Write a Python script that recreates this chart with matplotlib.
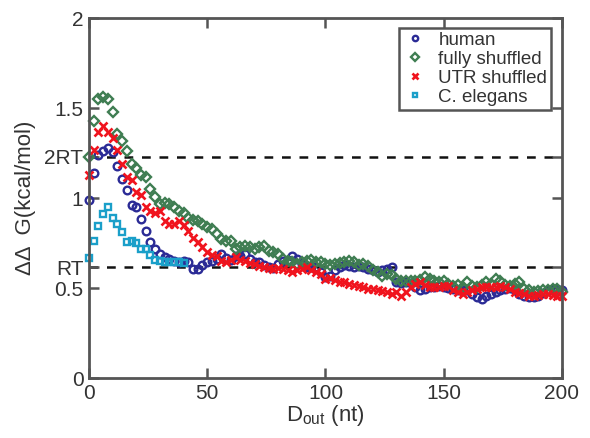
import numpy as np
import matplotlib
matplotlib.use('Agg')
import matplotlib.pyplot as plt

plt.rcParams['font.family'] = ['Liberation Sans', 'DejaVu Sans']

RT = 0.616  # kcal/mol at 310 K

d_out = list(range(0, 201, 2))
d_out_elegans = list(range(0, 41, 2))

human = [0.99, 1.14, 1.24, 1.265, 1.28, 1.26, 1.18, 1.11, 1.045, 0.965,
         0.95, 0.884, 0.82, 0.76, 0.72, 0.69, 0.672, 0.663, 0.65, 0.644,
         0.654, 0.645, 0.608, 0.605, 0.63, 0.644, 0.65, 0.665, 0.69, 0.67,
         0.66, 0.68, 0.68, 0.69, 0.663, 0.645, 0.644, 0.63, 0.62, 0.615,
         0.635, 0.654, 0.66, 0.68, 0.665, 0.635, 0.62, 0.617, 0.62, 0.59,
         0.561, 0.57, 0.60, 0.617, 0.63, 0.626, 0.62, 0.626, 0.62, 0.61,
         0.60, 0.59, 0.60, 0.61, 0.617, 0.534, 0.53, 0.534, 0.53, 0.51,
         0.488, 0.495, 0.506, 0.51, 0.515, 0.51, 0.50, 0.497, 0.49, 0.49,
         0.49, 0.47, 0.451, 0.442, 0.46, 0.47, 0.479, 0.49, 0.497, 0.50,
         0.49, 0.47, 0.46, 0.451, 0.45, 0.46, 0.475, 0.49, 0.497, 0.497,
         0.49]

fully_shuffled = [1.23, 1.43, 1.55, 1.565, 1.55, 1.48, 1.36, 1.32, 1.265, 1.19,
                  1.17, 1.127, 1.12, 1.05, 1.01, 0.967, 0.976, 0.967, 0.95, 0.93,
                  0.92, 0.893, 0.88, 0.874, 0.856, 0.838, 0.829, 0.80, 0.773, 0.764,
                  0.764, 0.718, 0.73, 0.736, 0.727, 0.72, 0.727, 0.736, 0.709, 0.70,
                  0.69, 0.663, 0.654, 0.645, 0.635, 0.645, 0.654, 0.66, 0.644, 0.644,
                  0.635, 0.63, 0.635, 0.64, 0.644, 0.65, 0.644, 0.63, 0.635, 0.626,
                  0.60, 0.59, 0.571, 0.58, 0.575, 0.55, 0.543, 0.54, 0.543, 0.54,
                  0.545, 0.561, 0.55, 0.543, 0.535, 0.54, 0.525, 0.515, 0.52, 0.506,
                  0.534, 0.515, 0.51, 0.52, 0.534, 0.525, 0.552, 0.54, 0.52, 0.515,
                  0.525, 0.534, 0.497, 0.49, 0.479, 0.485, 0.488, 0.488, 0.497, 0.495,
                  0.48]

utr_shuffled = [1.127, 1.27, 1.37, 1.40, 1.366, 1.335, 1.27, 1.19, 1.12, 1.10,
                1.035, 1.02, 0.95, 0.93, 0.92, 0.93, 0.875, 0.856, 0.856, 0.875,
                0.85, 0.82, 0.78, 0.755, 0.727, 0.70, 0.685, 0.68, 0.654, 0.645,
                0.66, 0.672, 0.66, 0.654, 0.64, 0.635, 0.625, 0.617, 0.615, 0.608,
                0.615, 0.61, 0.60, 0.59, 0.60, 0.61, 0.617, 0.60, 0.59, 0.58,
                0.552, 0.555, 0.545, 0.535, 0.534, 0.525, 0.52, 0.515, 0.51, 0.497,
                0.495, 0.488, 0.485, 0.48, 0.47, 0.479, 0.46, 0.48, 0.506, 0.525,
                0.534, 0.52, 0.51, 0.506, 0.51, 0.515, 0.515, 0.49, 0.479, 0.47,
                0.48, 0.488, 0.497, 0.506, 0.505, 0.506, 0.51, 0.515, 0.51, 0.497,
                0.479, 0.475, 0.47, 0.46, 0.46, 0.465, 0.47, 0.47, 0.465, 0.46,
                0.455]

c_elegans = [0.668, 0.764, 0.847, 0.915, 0.95, 0.893, 0.856, 0.814, 0.76, 0.764,
             0.751, 0.72, 0.718, 0.685, 0.66, 0.654, 0.644, 0.644, 0.644, 0.644,
             0.64]

ytick_vals = [0, 0.5, RT, 1, 2 * RT, 1.5, 2]
ytick_labels = ['0', '0.5', 'RT', '1', '2RT', '1.5', '2']

fig = plt.figure(figsize=(5.9, 4.38), dpi=100)
ax = fig.add_axes([0.1508, 0.1363, 0.8017, 0.8219])

ax.axhline(RT, color='#111111', ls=(0, (3.5, 3.5)), lw=1.8, zorder=1)
ax.axhline(2 * RT, color='#111111', ls=(0, (3.5, 3.5)), lw=1.8, zorder=1)

ax.plot(d_out, human, 'o', ms=5.5, mfc='none', mec='#2b2b96', mew=1.7,
        label='human', clip_on=False)
ax.plot(d_out, fully_shuffled, 'D', ms=5.3, mfc='none', mec='#3f7d52', mew=1.7,
        label='fully shuffled', clip_on=False)
ax.plot(d_out, utr_shuffled, 'x', ms=6, color='#f0141e', mew=1.9,
        label='UTR shuffled', clip_on=False)
ax.plot(d_out_elegans, c_elegans, 's', ms=4.8, mfc='none', mec='#1a9fc9', mew=1.7,
        label='C. elegans', clip_on=False)

ax.set_xlim(0, 200)
ax.set_ylim(0, 2)
ax.set_xticks([0, 50, 100, 150, 200])
ax.set_yticks(ytick_vals)
ax.set_yticklabels(ytick_labels)
ax.tick_params(direction='in', length=7, width=1.8, color='#555555',
               labelsize=15, labelcolor='#333333', top=True, right=True, pad=4)
for t, lab in zip(ax.yaxis.get_major_ticks(), ytick_labels):
    if 'RT' in lab:
        t.tick1line.set_color('#111111')
        t.tick2line.set_color('#111111')
for s in ax.spines.values():
    s.set_color('#555555')
    s.set_linewidth(2)

ax.set_xlabel(r'D$_{\mathregular{out}}$ (nt)', fontsize=16, color='#333333', labelpad=0)
ax.set_ylabel(u'\u0394\u0394  G(kcal/mol)', fontsize=16, color='#333333', labelpad=6)

leg = ax.legend(loc='upper right', bbox_to_anchor=(0.977, 0.973), borderaxespad=0,
                fontsize=13.5, markerscale=0.7, handlelength=1.3, handletextpad=0.6,
                borderpad=0.2, labelspacing=0.1, fancybox=False, framealpha=1)
leg.get_frame().set_edgecolor('#555555')
leg.get_frame().set_linewidth(1.8)
for txt in leg.get_texts():
    txt.set_color('#333333')

fig.savefig('out.png', dpi=100)
